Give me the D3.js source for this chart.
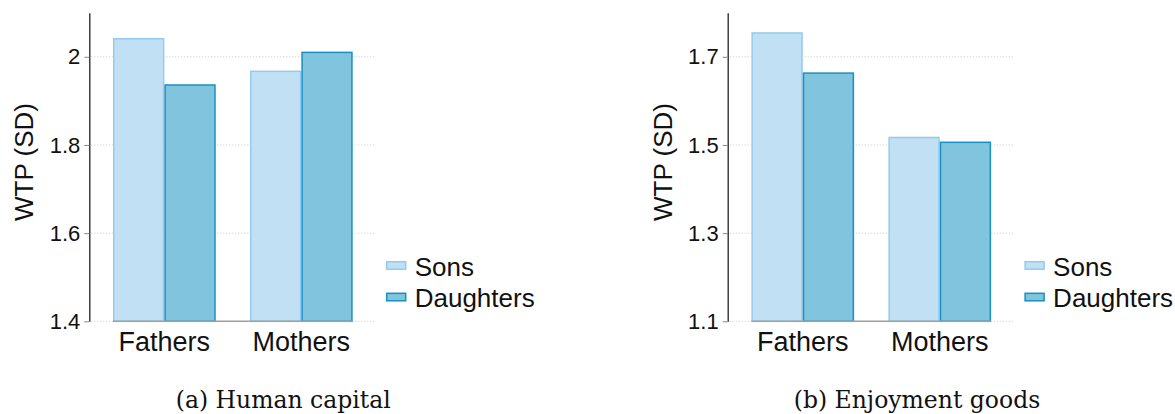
<!DOCTYPE html>
<html>
<head>
<meta charset="utf-8">
<script src="https://cdn.jsdelivr.net/npm/d3@7"></script>
<style>
  body { margin: 0; background: #fff; }
  svg { display: block; }
</style>
</head>
<body>
<svg id="chart"></svg>
<script>
const groups = ["Fathers", "Mothers"];
const series = ["Sons", "Daughters"];

// WTP (SD), one row per group: [Sons, Daughters]
const humanCapital = [[2.041, 1.936], [1.967, 2.010]];
const enjoymentGoods = [[1.754, 1.663], [1.517, 1.506]];

const humanTicks = [1.4, 1.6, 1.8, 2];
const enjoyTicks = [1.1, 1.3, 1.5, 1.7];

const width = 1175, height = 414;
const fills = { Sons: "#c2e0f3", Daughters: "#80c4de" };
const strokes = { Sons: "#93cbee", Daughters: "#1a8fc4" };

const svg = d3.select("#chart")
    .attr("width", width)
    .attr("height", height)
    .style("font-family", "Arial, 'Liberation Sans', sans-serif");

function drawPanel(left, values, ticks, domain, caption, captionX) {
  const g = svg.append("g").attr("transform", `translate(${left},0)`);

  const y = d3.scaleLinear().domain(domain).range([321.3, 12.7]);
  const x = d3.scaleBand().domain(groups).range([23.7, 263.4]).paddingInner(0.25);
  const xs = d3.scaleBand().domain(series).range([0, x.bandwidth()]);

  // dotted grid
  g.append("g")
    .selectAll("line")
    .data(ticks)
    .join("line")
      .attr("x1", 2).attr("x2", 286)
      .attr("y1", d => y(d)).attr("y2", d => y(d))
      .attr("stroke", "#c8c8c8")
      .attr("stroke-width", 1)
      .attr("stroke-dasharray", "1,2");

  // bars
  const bg = g.append("g")
    .selectAll("g")
    .data(groups.map((name, i) => ({ name, vals: values[i] })))
    .join("g")
      .attr("transform", d => `translate(${x(d.name)},0)`);

  bg.selectAll("rect")
    .data(d => series.map((s, j) => ({ s, v: d.vals[j] })))
    .join("rect")
      .attr("x", d => xs(d.s) + 0.75)
      .attr("width", xs.bandwidth() - 1.5)
      .attr("y", d => y(d.v))
      .attr("height", d => y(domain[0]) - y(d.v))
      .attr("fill", d => fills[d.s])
      .attr("stroke", d => strokes[d.s])
      .attr("stroke-width", 1.5);

  // baseline under the bars
  g.append("line")
    .attr("x1", x(groups[0])).attr("x2", x(groups[1]) + x.bandwidth())
    .attr("y1", y(domain[0])).attr("y2", y(domain[0]))
    .attr("stroke", "#a0a0a0")
    .attr("stroke-width", 1.5);

  // y axis
  const ax = g.append("g")
    .call(d3.axisLeft(y).tickValues(ticks).tickSize(5).tickSizeOuter(0).tickPadding(4)
      .tickFormat(d => String(d)));
  ax.select(".domain").attr("stroke", "#222").attr("stroke-width", 1.3);
  ax.selectAll(".tick line").attr("stroke", "#888");
  ax.selectAll(".tick text")
    .attr("font-size", 22)
    .attr("font-family", "Arial, 'Liberation Sans', sans-serif")
    .attr("fill", "#111");

  // y title
  g.append("text")
    .attr("transform", `translate(${-56},${162}) rotate(-90)`)
    .attr("text-anchor", "middle")
    .attr("font-size", 26)
    .attr("fill", "#111")
    .text("WTP (SD)");

  // category labels
  g.append("g")
    .selectAll("text")
    .data(groups)
    .join("text")
      .attr("x", d => x(d) + x.bandwidth() / 2)
      .attr("y", 350.7)
      .attr("text-anchor", "middle")
      .attr("font-size", 27)
      .attr("fill", "#111")
      .text(d => d);

  // legend
  const lg = g.append("g")
    .selectAll("g")
    .data(series)
    .join("g")
      .attr("transform", (d, i) => `translate(297.4,${261.7 + i * 31.6})`);
  lg.append("rect")
    .attr("width", 19).attr("height", 7.5)
    .attr("fill", d => fills[d])
    .attr("stroke", d => strokes[d])
    .attr("stroke-width", 1.5);
  lg.append("text")
    .attr("x", 28).attr("y", 14)
    .attr("font-size", 26)
    .attr("fill", "#111")
    .text(d => d);

  // caption
  svg.append("text")
    .attr("x", captionX)
    .attr("y", 407.5)
    .attr("text-anchor", "middle")
    .attr("font-family", "'DejaVu Serif', 'Liberation Serif', serif")
    .attr("font-size", 23.5)
    .attr("fill", "#111")
    .text(caption);
}

drawPanel(89.3, humanCapital, humanTicks, [1.4, 2.1], "(a) Human capital", 283.3);
drawPanel(727.7, enjoymentGoods, enjoyTicks, [1.1, 1.8], "(b) Enjoyment goods", 917);
</script>
</body>
</html>
